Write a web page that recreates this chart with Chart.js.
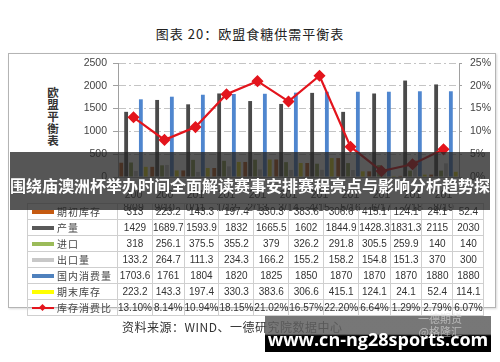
<!DOCTYPE html>
<html>
<head>
<meta charset="utf-8">
<script src="https://cdn.jsdelivr.net/npm/chart.js@4.4.0/dist/chart.umd.min.js"></script>
<style>
  body { margin: 0; background: #fff; }
  #page { position: relative; width: 500px; height: 362px; overflow: hidden; background: #fff; font-family: 'Noto Sans CJK SC', sans-serif; }
  #frame { position: absolute; left: 8px; top: 53px; width: 486px; height: 253px; border: 1px solid #b4b4b4; box-shadow: 1px 1px 2px rgba(0,0,0,0.15); }
  #title { position: absolute; left: 0; width: 500px; top: 24px; text-align: center; font-size: 13px; color: #222; letter-spacing: 1px; }
  #ylabel { position: absolute; left: 46px; top: 86px; width: 14px; font-size: 11.5px; line-height: 12px; font-weight: bold; color: #333; text-align: center; }
  canvas { position: absolute; left: 0; top: 0; }
  #dtable { position: absolute; left: 27px; top: 203px; border-collapse: collapse; table-layout: fixed; font-family: 'Liberation Sans', sans-serif; font-size: 10px; color: #333; }
  #dtable td { border: 1px solid #cfcfcf; height: 13.8px; padding: 0; text-align: center; white-space: nowrap; overflow: visible; }
  #dtable td.lab { text-align: left; font-family: 'Noto Sans CJK SC', sans-serif; letter-spacing: 1px; color: #444; }
  .sw { display: inline-block; width: 22px; height: 4px; margin: 0 3px 2px 4px; vertical-align: middle; position: relative; }
  .dia { position: absolute; left: 8px; top: -2px; width: 5px; height: 5px; background: #e3151d; transform: rotate(45deg); }
  #banner { position: absolute; left: 10px; top: 152px; width: 480px; height: 58px; background: rgba(38,38,38,0.78); }
  #btext { position: absolute; left: 0px; top: 173px; width: 500px; text-align: center; color: #fff; font-weight: bold; font-size: 16px; white-space: nowrap; }
  #source { position: absolute; left: 122px; top: 318px; font-size: 12px; color: #333; letter-spacing: 0.5px; }
  #wm { position: absolute; left: 265px; top: 316px; width: 226px; height: 36px; background: linear-gradient(to bottom, rgba(95,95,95,0.85) 0, rgba(95,95,95,0.85) 50%, #000 55%, #000 100%); }
  #wmfaint { position: absolute; left: 418px; top: 312px; font-size: 11px; color: rgba(225,225,225,0.6); line-height: 13px; text-align: right; }
  #wmtext { position: absolute; left: 265px; top: 327px; width: 226px; text-align: center; color: #fff; font-family: 'Open Sans', sans-serif; font-weight: bold; font-size: 18px; }
</style>
</head>
<body>
<div id="page">
  <div id="title">图表 20：欧盟食糖供需平衡表</div>
  <div id="frame"></div>
  <div id="ylabel">欧<br>盟<br>平<br>衡<br>表</div>
  <canvas id="chart" width="500" height="362"></canvas>
  <table id="dtable"></table>
  <div id="banner"></div>
  <div id="btext">围绕庙澳洲杯举办时间全面解读赛事安排赛程亮点与影响分析趋势探</div>
  <div id="source">资料来源：WIND、一德研究院数据中心</div>
  <div id="wm"></div>
  <div id="wmfaint">一德期货<br>@格隆汇</div>
  <div id="wmtext">www.cn-ng28sports.com</div>
</div>
<script>
// categories (marketing years)
const categories = ['2008/09', '2009/10', '2010/11', '2011/12', '2012/13', '2013/14', '2014/15', '2015/16', '2016/17', '2017/18', '2018/19'];

// series values (万吨) and the ratio (%)
const openingStock = [313, 223.2, 143.3, 197.4, 330.3, 383.6, 306.6, 415.1, 124.1, 24.1, 52.4];
const production = [1429, 1689.7, 1593.9, 1832, 1665.5, 1602, 1844.9, 1428.3, 1831.3, 2115, 2030];
const imports = [318, 256.1, 375.5, 355.2, 379, 326.2, 291.8, 305.5, 259.9, 140, 140];
const exportsVol = [133.2, 264.7, 111.3, 234.3, 166.2, 155.2, 158.2, 154.8, 151.3, 370, 300];
const consumption = [1703.6, 1761, 1804, 1820, 1825, 1850, 1870, 1870, 1870, 1880, 1880];
const endingStock = [223.2, 143.3, 197.4, 330.3, 383.6, 306.6, 415.1, 124.1, 24.1, 52.4, 114.1];
const stockRatio = [13.10, 8.14, 10.94, 18.15, 21.02, 16.57, 22.20, 6.64, 1.29, 2.79, 6.07];

const seriesNames = ['期初库存', '产量', '进口', '出口量', '国内消费量', '期末库存', '库存消费比'];
const seriesColors = ['#b9581c', '#4a4a4a', '#8a9c4a', '#c0c0c0', '#4f86cf', '#e2dc1e', '#e3151d'];
const swatchColors = ['#c55a11', '#595959', '#9bbb59', '#c8c8c8', '#4f81bd', '#ffff00', '#e3151d'];

const barSeries = [openingStock, production, imports, exportsVol, consumption, endingStock];

// data table under the chart
const table = document.getElementById('dtable');
const colW = [90].concat(categories.map(() => 342 / categories.length));
const cg = document.createElement('colgroup');
colW.forEach(w => { const c = document.createElement('col'); c.style.width = w + 'px'; cg.appendChild(c); });
table.appendChild(cg);
seriesNames.forEach((name, i) => {
    const tr = document.createElement('tr');
    const lab = document.createElement('td');
    lab.className = 'lab';
    const sw = document.createElement('span');
    sw.className = 'sw';
    if (i === 6) {
        sw.style.height = '2px';
        sw.style.marginBottom = '3px';
        sw.innerHTML = '<span class="dia"></span>';
    }
    sw.style.background = swatchColors[i];
    lab.appendChild(sw);
    lab.appendChild(document.createTextNode(name));
    tr.appendChild(lab);
    const vals = i < 6 ? barSeries[i] : stockRatio;
    vals.forEach(v => {
        const td = document.createElement('td');
        td.textContent = i < 6 ? String(v) : v.toFixed(2) + '%';
        tr.appendChild(td);
    });
    table.appendChild(tr);
});

const datasets = barSeries.map((data, i) => ({
    type: 'bar',
    label: seriesNames[i],
    data: data,
    backgroundColor: seriesColors[i],
    yAxisID: 'y',
    order: 1,
    categoryPercentage: 0.95,
    barPercentage: 0.78,
}));
datasets.push({
    type: 'line',
    label: seriesNames[6],
    data: stockRatio,
    borderColor: '#e3151d',
    backgroundColor: '#e3151d',
    borderWidth: 2.2,
    pointStyle: 'rectRot',
    pointRadius: 4.5,
    tension: 0,
    yAxisID: 'y1',
    order: 0,
});

const tickFont = { family: 'Liberation Sans', size: 10.5 };

new Chart(document.getElementById('chart').getContext('2d'), {
    data: { labels: categories, datasets: datasets },
    options: {
        responsive: false,
        animation: false,
        devicePixelRatio: 1,
        layout: { padding: { top: 63, left: 0, right: 0, bottom: 0 } },
        plugins: { legend: { display: false }, tooltip: { enabled: false } },
        scales: {
            x: {
                grid: { display: false },
                border: { color: '#a0a0a0' },
                ticks: {
                    font: tickFont,
                    color: '#444',
                    maxRotation: 0,
                    autoSkip: false,
                    padding: 4,
                    callback: function(value, index) {
                        const c = categories[index];
                        return [c.slice(0, 3), c.slice(3)];
                    }
                },
                afterFit: function(scale) { scale.height = 185; }
            },
            y: {
                position: 'left',
                min: 0,
                max: 2500,
                ticks: {
                    stepSize: 500,
                    font: tickFont,
                    color: '#444',
                    padding: 6,
                    callback: function(value) { return String(value); }
                },
                grid: { color: '#c4c4c4', lineWidth: 1, tickLength: 5, tickColor: '#a0a0a0' },
                border: { color: '#a0a0a0', dash: [7, 3, 2, 3] },
                afterFit: function(scale) { scale.width = 118; }
            },
            y1: {
                position: 'right',
                min: 0,
                max: 25,
                ticks: {
                    stepSize: 5,
                    font: tickFont,
                    color: '#444',
                    padding: 8,
                    callback: function(value) { return value + '%'; }
                },
                grid: { drawOnChartArea: false, tickLength: 3, tickColor: '#a0a0a0' },
                border: { color: '#a0a0a0' },
                afterFit: function(scale) { scale.width = 41; }
            }
        }
    }
});
</script>
</body>
</html>
